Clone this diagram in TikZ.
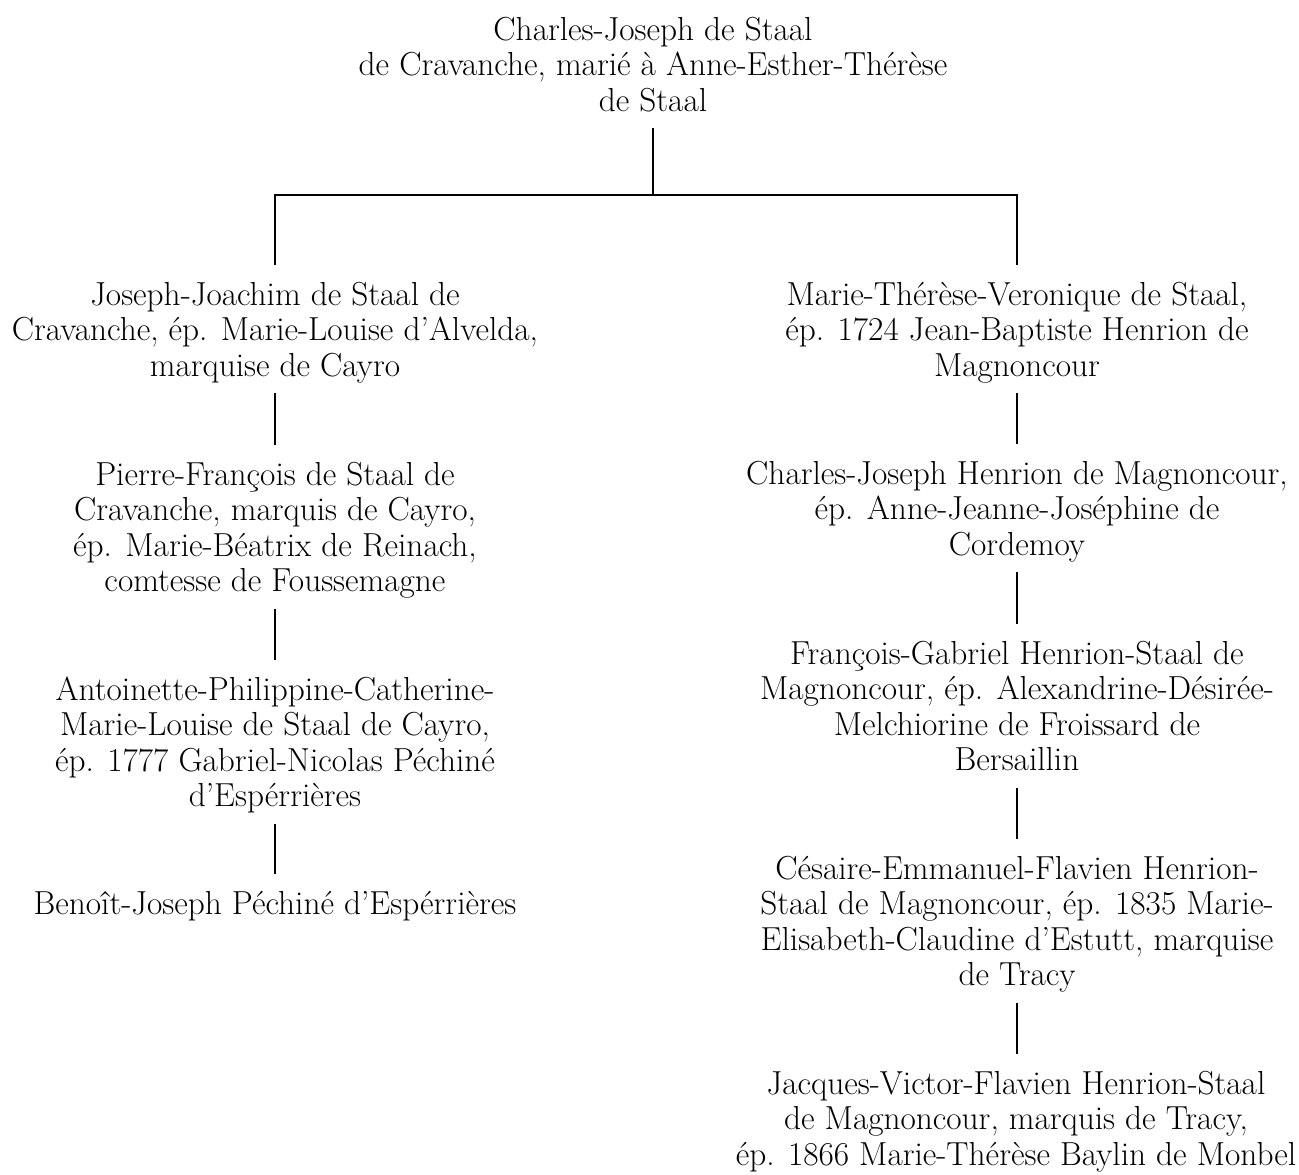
\documentclass[tikz,border=0pt]{standalone}
\begin{document}
\begin{tikzpicture}[x=1pt,y=-1pt,
  person/.style={align=center, inner sep=0pt, font=\fontsize{33.3}{35.6}\selectfont},
  link/.style={line width=1.3pt, shorten <=6pt, shorten >=15pt}]
\fill[white] (0,0) rectangle (1299,1175);
\useasboundingbox (0,0) rectangle (1299,1175);

\node[person] (root) at (653,68.5) {\strut Charles-Joseph de Staal\\de Cravanche, marié à Anne-Esther-Thérèse\\de Staal\strut};

\node[person] (jj) at (275,333.5) {\strut Joseph-Joachim de Staal de\\Cravanche, ép. Marie-Louise d’Alvelda,\\marquise de Cayro\strut};
\node[person] (pf) at (275,531.3) {\strut Pierre-François de Staal de\\Cravanche, marquis de Cayro,\\ép. Marie-Béatrix de Reinach,\\comtesse de Foussemagne\strut};
\node[person] (ap) at (275,746.3) {\strut Antoinette-Philippine-Catherine-\\Marie-Louise de Staal de Cayro,\\ép. 1777 Gabriel-Nicolas Péchiné\\d’Espérrières\strut};
\node[person] (bj) at (275,906.9) {\strut Benoît-Joseph Péchiné d’Espérrières\strut};

\node[person] (mt) at (1017,333.5) {\strut Marie-Thérèse-Veronique de Staal,\\ép. 1724 Jean-Baptiste Henrion de\\Magnoncour\strut};
\node[person] (cj) at (1017,512.5) {\strut Charles-Joseph Henrion de Magnoncour,\\ép. Anne-Jeanne-Joséphine de\\Cordemoy\strut};
\node[person] (fg) at (1017,710.3) {\strut François-Gabriel Henrion-Staal de\\Magnoncour, ép. Alexandrine-Désirée-\\Melchiorine de Froissard de\\Bersaillin\strut};
\node[person] (ce) at (1017,925.3) {\strut Césaire-Emmanuel-Flavien Henrion-\\Staal de Magnoncour, ép. 1835 Marie-\\Elisabeth-Claudine d’Estutt, marquise\\de Tracy\strut};
\node[person] (jv) at (1016,1122.5) {\strut Jacques-Victor-Flavien Henrion-Staal\\de Magnoncour, marquis de Tracy,\\ép. 1866 Marie-Thérèse Baylin de Monbel\strut};

\coordinate (bar) at (653,195);
\draw[link] (root.south) -- (bar) -| (jj.north);
\draw[line width=1.3pt, shorten >=15pt] (bar) -| (mt.north);

\draw[link] (jj.south) -- (pf.north);
\draw[link] (pf.south) -- (ap.north);
\draw[link] (ap.south) -- (bj.north);
\draw[link] (mt.south) -- (cj.north);
\draw[link] (cj.south) -- (fg.north);
\draw[link] (fg.south) -- (ce.north);
\draw[link] (ce.south) -- (ce.south |- jv.north);
\end{tikzpicture}
\end{document}
